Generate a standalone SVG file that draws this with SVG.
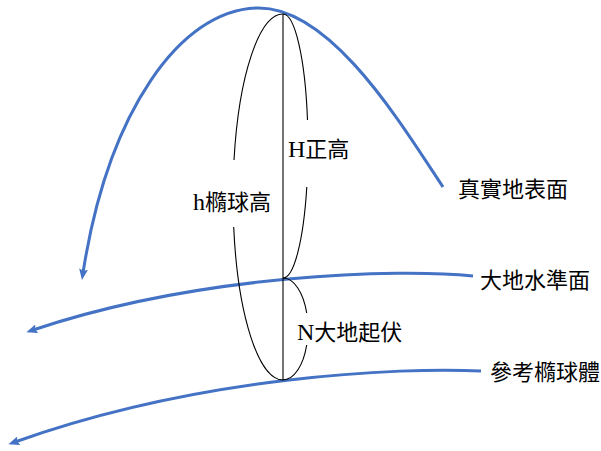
<svg xmlns="http://www.w3.org/2000/svg" width="601" height="451" viewBox="0 0 601 451">
<style>
.blue{fill:none;stroke:#4472C4;stroke-width:3;marker-end:url(#arr)}
.blk{fill:none;stroke:#000;stroke-width:1.1}
text{font-family:"Liberation Serif","Noto Sans CJK TC",serif;font-size:22px;fill:#000}
.lat{font-size:24px}
</style>
<defs>
<marker id="arr" markerUnits="userSpaceOnUse" viewBox="0 0 11 9" markerWidth="11" markerHeight="9" refX="4" refY="4.5" orient="auto">
<path d="M0,0 L11,4.5 L0,9 L2,4.5 z" fill="#4472C4"/>
</marker>
</defs>
<rect width="601" height="451" fill="#fff"/>
<g id="connectors">
<path id="surface" class="blue" d="M443,187 C400,122 330,6 257,8 C180,10 108,112 83,273"/>
<path id="geoid" class="blue" d="M473,276 C400,268 200,274 33,330"/>
<path id="ellipsoid" class="blue" d="M481,371 C400,367 200,376 15,442"/>
<path id="vline" class="blk" d="M283,14 L283,380"/>
<path id="brace-h" class="blk" d="M283,14 A50,183 0 0 0 234,160 M233.7,227 A50,183 0 0 0 283,380"/>
<path id="brace-H" class="blk" d="M283,14 A25,132 0 0 1 307.5,120 M306.8,187 A25,132 0 0 1 283,278"/>
<path id="brace-N" class="blk" d="M283,278 A25,51 0 0 1 306.7,313 M306.7,345 A25,51 0 0 1 283,380"/>
</g>
<g id="label-surface"><text x="458" y="197">真實地表面</text></g>
<g id="label-geoid"><text x="480" y="288">大地水準面</text></g>
<g id="label-ellipsoid"><text x="490" y="380">參考橢球體</text></g>
<g id="label-H"><text x="288" y="157"><tspan class="lat">H</tspan>正高</text></g>
<g id="label-h"><text x="193" y="210"><tspan class="lat">h</tspan>橢球高</text></g>
<g id="label-N"><text x="297" y="340"><tspan class="lat">N</tspan>大地起伏</text></g>
</svg>
